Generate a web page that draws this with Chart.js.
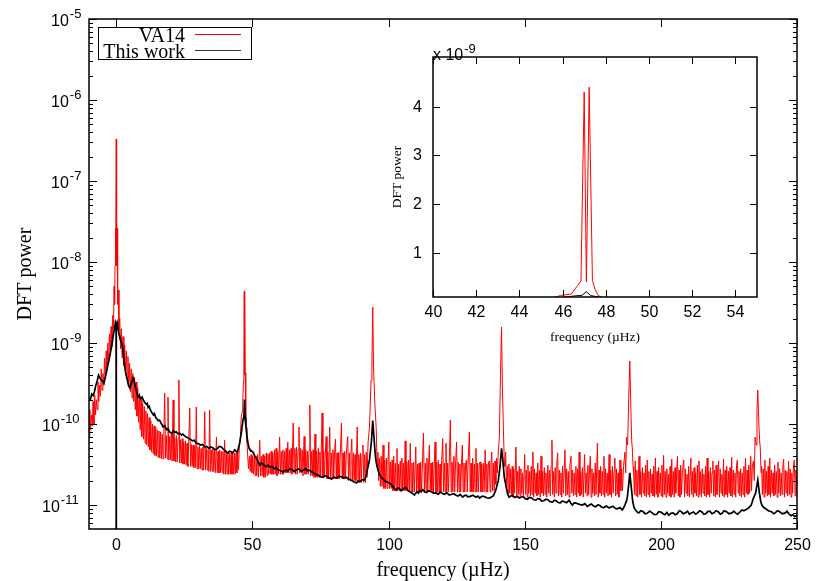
<!DOCTYPE html>
<html>
<head>
<meta charset="utf-8">
<script src="https://cdn.jsdelivr.net/npm/chart.js@4.4.0/dist/chart.umd.min.js"></script>
<style>
  html, body { margin: 0; padding: 0; background: #fff; }
  #wrap { position: relative; width: 830px; height: 581px; }
  #main { position: absolute; left: 0; top: 0; }
  #inset { position: absolute; left: 380px; top: 40px; }
</style>
</head>
<body>
<div id="wrap">
  <canvas id="main" width="830" height="581"></canvas>
  <canvas id="inset" width="400" height="320"></canvas>
</div>
<script>
// espectros leidos a ojo: [frecuencia (µHz), potencia (x1e-12)]
const va14 = [
  [-10,70],[-9.7,150],[-9.4,85],[-9.1,130],[-8.8,95],[-8.5,190],[-8.2,100],[-7.9,230],[-7.6,130],[-7.3,200],
  [-7,150],[-6.7,330],[-6.4,190],[-6.1,300],[-5.8,220],[-5.5,480],[-5.2,260],[-4.9,420],[-4.6,300],[-4.3,650],
  [-4,360],[-3.7,800],[-3.4,480],[-3.1,1000],[-2.8,560],[-2.5,1300],[-2.2,700],[-1.9,1600],[-1.6,900],[-1.3,2200],
  [-1,1500],[-0.8,5000],[-0.6,3000],[-0.45,9000],[-0.3,26000],[-0.15,9000],[0,330000],[0.15,9000],[0.3,26000],[0.45,8000],
  [0.6,3000],[0.8,4500],[1,1400],[1.3,2000],[1.6,850],[1.9,1500],[2.2,650],[2.5,1200],[2.8,520],[3.1,950],
  [3.4,430],[3.7,800],[4,350],[4.3,680],[4.6,300],[4.9,560],[5.2,250],[5.5,480],[5.8,210],[6.1,420],
  [6.4,190],[6.7,380],[7,150],[7.3,330],[7.6,125],[7.9,280],[8.2,105],[8.5,240],[8.8,85],[9.1,200],
  [9.4,70],[9.7,180],[10,65],[10.3,165],[10.6,58],[10.9,145],[11.2,55],[11.5,135],[11.8,52],[12.1,120],
  [12.4,48],[12.7,110],[13,45],[13.3,100],[13.6,43],[13.9,95],[14.2,41],[14.5,92],[14.8,40],[15.1,85],
  [15.4,39],[15.7,82],[16,38],[16.3,80],[16.6,37],[16.9,75],[17.2,37],[17.5,80],[17.8,241],[18.1,38],
  [18.4,72],[18.7,37],[19,215],[19.3,36],[19.6,70],[19.9,36],[20.2,75],[20.5,35],[20.9,198],[21.2,35],
  [21.5,68],[21.8,34],[22.1,72],[22.4,34],[22.7,66],[23,349],[23.3,33],[23.6,64],[23.9,33],[24.2,66],
  [24.5,32],[24.8,60],[25.1,32],[25.4,62],[25.7,31],[26,58],[26.3,30],[26.6,60],[27,158],[27.3,30],
  [27.6,56],[27.9,30],[28.2,55],[28.5,29],[28.8,54],[29.1,29],[29.4,162],[29.7,28],[30,52],[30.3,28],
  [30.6,54],[30.9,28],[31.2,50],[31.5,27],[31.8,52],[32.1,27],[32.5,142],[32.8,27],[33.1,50],[33.4,27],
  [33.7,48],[34,26],[34.3,149],[34.6,26],[34.9,48],[35.2,26],[35.5,50],[35.8,26],[36.1,47],[36.4,25],
  [36.8,69],[37.1,25],[37.4,46],[37.7,25],[38,48],[38.3,25],[38.6,46],[38.9,25],[39.2,46],[39.5,24],
  [39.8,63],[40.1,24],[40.4,45],[40.7,24],[41,45],[41.3,24],[41.6,44],[41.9,24],[42.2,44],[42.5,24],
  [42.8,45],[43.1,24],[43.4,44],[43.7,24],[44,44],[44.3,25],[44.6,46],[44.9,27],[45.2,52],[45.5,60],
  [45.9,122],[46.4,150],[46.7,330],[46.85,420],[47,4300],[47.1,400],[47.23,4400],[47.38,430],[47.5,250],[47.65,120],
  [47.8,90],[48,60],[48.3,39],[48.6,28],[48.9,40],[49.2,26],[49.5,42],[49.8,25],[50.1,40],[50.4,24],
  [50.7,42],[51,23],[51.3,40],[51.6,23],[51.9,42],[52.2,22],[52.7,63],[53,23],[53.3,40],[53.6,23],
  [53.9,42],[54.2,22],[54.5,40],[54.8,22],[55.1,44],[55.4,23],[55.7,43],[56,24],[56.3,44],[56.6,24],
  [56.9,46],[57.2,24],[57.5,44],[57.8,24],[58.1,48],[58.4,24],[58.7,50],[59,23],[59.3,46],[59.6,24],
  [60,69],[60.3,24],[60.6,46],[60.9,24],[61.2,48],[61.5,24],[61.8,46],[62.1,25],[62.4,50],[62.7,25],
  [63,60],[63.3,25],[63.6,48],[63.9,25],[64.2,50],[64.5,24],[65,103],[65.3,25],[65.6,50],[65.9,24],
  [66.2,52],[66.5,24],[66.8,48],[67.1,92],[67.4,25],[67.7,50],[68,25],[68.3,48],[68.6,23],[69,70],
  [69.3,24],[69.6,48],[69.9,24],[70.2,46],[70.5,24],[70.8,48],[71.1,172],[71.4,23],[71.7,46],[72,23],
  [72.3,48],[72.6,22],[73,75],[73.3,22],[73.6,46],[73.9,22],[74.2,50],[74.5,22],[74.8,45],[75.1,22],
  [75.6,137],[75.9,22],[76.2,46],[76.5,22],[76.8,44],[77.1,70],[77.4,21],[77.7,45],[78,21],[78.4,92],
  [78.7,21],[79,44],[79.3,21],[79.6,48],[79.9,21],[80.2,46],[80.5,65],[80.8,21],[81.1,44],[81.4,21],
  [81.7,45],[82,21],[82.3,44],[82.7,103],[83,21],[83.3,44],[83.6,21],[83.9,46],[84.2,21],[84.5,44],
  [85,70],[85.3,20],[85.6,44],[85.9,20],[86.2,45],[86.5,65],[86.8,20],[87.1,44],[87.4,20],[87.7,42],
  [88,20],[88.5,92],[88.8,19],[89.1,42],[89.4,19],[89.7,44],[90,19],[90.3,42],[90.6,55],[90.9,19],
  [91.2,42],[91.5,19],[91.8,45],[92.1,22],[92.5,60],[93,92],[93.6,350],[93.9,600],[94.2,2780],[94.5,500],
  [94.9,200],[95.5,84],[95.8,30],[96.1,45],[96.4,20],[96.7,38],[97,17],[97.3,40],[97.6,17],[98,55],
  [98.3,16],[98.6,36],[98.9,16],[99.2,38],[99.5,16],[99.8,35],[100.1,60],[100.4,16],[100.7,34],[101,16],
  [101.3,36],[101.6,15],[101.9,40],[102.2,15],[102.5,33],[102.8,15],[103.1,50],[103.4,15],[103.7,32],[104,15],
  [104.3,35],[104.6,15],[104.9,38],[105.2,15],[105.5,33],[105.8,15],[106.1,62],[106.4,15],[106.7,34],[107,15],
  [107.3,36],[107.6,15],[108,58],[108.3,14.5],[108.6,33],[108.9,14.5],[109.2,34],[109.5,14.5],[110,52],[110.3,14.5],
  [110.6,32],[110.9,14.5],[111.2,33],[111.5,14.5],[111.8,34],[112.1,14.5],[112.8,77],[113.2,14.5],[113.5,33],[113.8,14.5],
  [114.1,38],[114.4,14.5],[114.7,32],[115,55],[115.3,14.5],[115.6,33],[115.9,14.5],[116.2,34],[116.5,14.5],[116.8,32],
  [117.1,60],[117.4,14.5],[117.7,34],[118,14.5],[118.3,36],[118.6,14.5],[118.9,32],[119.2,14.5],[119.5,34],[119.9,66],
  [120.2,14.5],[120.5,33],[120.8,14.5],[121.1,58],[121.4,14.5],[121.7,33],[122,14.5],[122.3,34],[122.7,112],[123,14.5],
  [123.3,34],[123.6,14.5],[124,40],[124.3,14.5],[124.6,32],[125,60],[125.3,14.5],[125.6,34],[125.9,14.5],[126.2,32],
  [126.5,14.5],[126.8,33],[127.1,55],[127.4,14.5],[127.7,33],[128,14.5],[128.3,32],[128.6,36],[128.9,14.5],[129.2,33],
  [129.7,80],[130,14.5],[130.3,33],[130.6,14.5],[130.9,38],[131.2,14.5],[131.5,32],[131.8,14.5],[132.1,50],[132.4,14.5],
  [132.7,33],[133,14.5],[133.3,32],[133.6,34],[133.9,14.5],[134.2,32],[134.5,14.5],[134.8,33],[135.1,14.5],[135.5,48],
  [135.8,14.5],[136.1,32],[136.4,14.5],[136.7,33],[137,35],[137.3,14.5],[137.6,32],[137.9,45],[138.2,15],[138.5,33],
  [138.8,15],[139.1,35],[139.4,18],[139.7,38],[140,25],[140.3,45],[140.7,69],[141.1,400],[141.5,1580],[141.8,300],
  [142.2,84],[142.5,35],[142.7,30],[143,45],[143.3,18],[143.6,30],[143.9,14],[144.2,32],[144.5,14],[144.8,28],
  [145.1,13.5],[145.4,30],[145.7,12.5],[146,28],[146.3,14],[146.8,52],[147.1,13],[147.4,26],[147.7,13.5],[148,30],
  [148.3,12.5],[148.6,28],[148.9,14],[149.2,25],[149.5,13],[150,42],[150.3,13.5],[150.6,27],[150.9,12.5],[151.2,31],
  [151.5,14],[151.8,26],[152.1,13],[152.4,30],[152.7,13.5],[153,45],[153.3,12.5],[153.6,28],[153.9,14],[154.2,25],
  [154.5,13],[154.8,33],[155.1,13.5],[155.4,27],[155.7,12.5],[156,40],[156.3,14],[156.6,26],[156.9,13],[157.2,29],
  [157.5,13.5],[157.8,25],[158.1,12.5],[158.5,31],[158.8,14],[159.1,27],[159.4,13],[159.7,30],[160,63],[160.3,13.5],
  [160.6,26],[160.9,12.5],[161.2,29],[161.5,14],[161.8,33],[162.1,44],[162.4,13],[162.7,27],[163,13.5],[163.3,25],
  [163.6,12.5],[163.9,30],[164.2,14],[164.8,48],[165.1,13],[165.4,28],[165.7,13.5],[166,26],[166.3,12.5],[166.6,31],
  [167,40],[167.3,14],[167.6,27],[167.9,13],[168.2,25],[168.5,13.5],[168.8,30],[169.1,12.5],[169.4,28],[169.7,14],
  [170,45],[170.3,13],[170.6,26],[170.9,13.5],[171.2,29],[171.5,12.5],[172,42],[172.3,14],[172.6,25],[172.9,13],
  [173.2,31],[173.5,13.5],[173.8,27],[174.1,40],[174.4,12.5],[174.7,28],[175,14],[175.3,25],[175.6,13],[175.9,33],
  [176.2,13.5],[176.7,58],[177,12.5],[177.3,27],[177.6,14],[177.9,30],[178.2,13],[178.5,26],[178.8,13.5],[179.1,40],
  [179.4,12.5],[179.7,28],[180,14],[180.3,25],[180.6,13],[181,42],[181.3,13.5],[181.6,27],[181.9,12.5],[182.2,30],
  [182.5,14],[182.8,26],[183.1,38],[183.4,13],[183.7,28],[184,13.5],[184.3,25],[184.6,12.5],[185,36],[185.3,15],
  [185.6,28],[185.9,15],[186.3,30],[186.8,45],[187.1,25],[187.4,69],[187.8,55],[188.2,200],[188.6,600],[189,150],
  [189.3,60],[189.5,52],[189.8,30],[190,25],[190.3,13.5],[190.6,35],[190.9,13],[191.2,27],[191.5,12.5],[192,40],
  [192.3,13.5],[192.6,26],[192.9,12.5],[193.2,29],[193.5,14],[193.8,25],[194.1,13],[194.4,31],[194.7,12.5],[195,36],
  [195.3,13.5],[195.6,26],[195.9,12.5],[196.2,28],[196.5,14],[196.8,24],[197.1,13],[197.4,30],[197.7,12.5],[198,38],
  [198.3,13.5],[198.6,26],[198.9,12.5],[199.2,29],[199.5,14],[199.8,25],[200.1,13],[200.4,31],[200.7,12.5],[201,41],
  [201.3,13.5],[201.6,26],[201.9,12.5],[202.2,28],[202.5,14],[202.8,24],[203.1,13],[203.4,30],[203.7,12.5],[204,37],
  [204.3,13.5],[204.6,26],[204.9,12.5],[205.2,29],[205.5,14],[205.8,25],[206.1,40],[206.4,13],[206.7,27],[207,12.5],
  [207.3,31],[207.6,13.5],[207.9,25],[208.4,36],[208.7,12.5],[209,28],[209.3,14],[209.6,24],[209.9,13],[210.2,30],
  [210.5,12.5],[211,38],[211.3,13.5],[211.6,26],[211.9,12.5],[212.2,29],[212.5,14],[212.8,25],[213.1,13],[213.4,31],
  [213.7,12.5],[214,35],[214.3,13.5],[214.6,26],[214.9,12.5],[215.2,28],[215.5,14],[215.8,24],[216.1,13],[216.4,30],
  [216.7,12.5],[217,38],[217.3,13.5],[217.6,26],[217.9,12.5],[218.2,29],[218.5,14],[218.8,25],[219.1,35],[219.4,13],
  [219.7,27],[220,12.5],[220.3,31],[220.6,13.5],[220.9,25],[221.2,35],[221.5,12.5],[221.8,28],[222.1,14],[222.4,24],
  [222.7,13],[223,37],[223.3,12.5],[223.6,27],[223.9,13.5],[224.2,30],[224.5,12.5],[224.8,26],[225.1,14],[225.4,29],
  [225.7,13],[226,39],[226.3,12.5],[226.6,27],[226.9,13.5],[227.2,25],[227.5,12.5],[227.8,31],[228.1,36],[228.4,14],
  [228.7,26],[229,13],[229.3,28],[229.6,12.5],[229.9,25],[230.2,13.5],[230.5,30],[230.8,12.5],[231.1,38],[231.4,14],
  [231.7,27],[232,13.5],[232.3,31],[232.6,14],[233,40],[233.3,15],[233.6,30],[234,35],[234.3,20],[234.6,69],
  [235,55],[235.3,150],[235.6,263],[236,100],[236.3,60],[236.5,52],[236.8,25],[237,30],[237.3,13.5],[237.6,28],
  [237.9,12.5],[238.2,36],[238.5,14],[238.8,26],[239.1,13],[239.4,30],[239.7,13.5],[240,38],[240.3,12.5],[240.6,27],
  [240.9,14],[241.2,25],[241.5,13],[241.8,31],[242.1,13.5],[242.4,26],[242.7,12.5],[243,34],[243.3,14],[243.6,28],
  [243.9,13],[244.2,25],[244.5,13.5],[244.8,30],[245.1,37],[245.4,12.5],[245.7,27],[246,14],[246.3,26],[246.6,13],
  [246.9,35],[247.2,13.5],[247.5,28],[247.8,12.5],[248.1,25],[248.4,14],[248.7,30],[249,36],[249.3,13],[249.6,27],
  [250,13.5]
];

const thisWork = [
  [-10,210],[-9.5,200],[-9,235],[-8.5,225],[-8,250],[-7.5,300],[-7,340],[-6.5,400],[-6,370],[-5.5,350],
  [-5,340],[-4.5,320],[-4,380],[-3.5,450],[-3,550],[-2.5,650],[-2,800],[-1.5,1000],[-1,1300],[-0.5,1600],
  [-0.3,1800],[-0.05,1700],[0,0.01],[0.05,1700],[0.3,1800],[0.5,1600],[1,1300],[1.5,1100],[2,1000],[2.5,800],
  [3,550],[3.5,420],[4,360],[4.5,300],[5,280],[5.3,300],[5.6,320],[6.2,370],[6.6,340],[7,290],
  [7.5,250],[8,215],[8.5,225],[9,205],[9.5,215],[9.9,200],[10.4,185],[11,175],[11.4,180],[11.7,160],
  [12.1,165],[12.5,150],[13,140],[13.6,130],[14,135],[14.5,120],[15,115],[15.4,110],[15.9,112],[16.3,105],
  [16.8,98],[17.2,92],[17.8,95],[18.5,85],[19,88],[19.6,80],[20.3,77],[21,82],[21.6,79],[22,80],
  [22.6,76],[23.3,77],[24,73],[24.5,75],[25,72],[25.7,69],[26.4,67],[27.2,65],[28,62],[28.7,63],
  [29.4,58],[30.2,57],[31,55],[31.7,56],[32.5,52],[33.2,53],[34,50],[34.7,52],[35.5,51],[36.2,48],
  [37,49],[37.8,53],[38.6,52],[39.3,49],[40,47],[40.5,45],[41,44],[41.5,46],[42,46],[42.7,44],
  [43.5,48],[44,46],[44.5,45],[45.3,58],[46,80],[46.5,110],[46.9,125],[47.1,200],[47.3,120],[47.6,95],
  [48,70],[48.4,58],[48.8,50],[49.1,48],[49.6,47],[50.2,45],[50.8,41],[51.5,38],[52.1,34],[52.7,31],
  [53.3,33],[54,32],[54.6,30],[55.2,30],[55.8,31],[56.4,29.5],[57.2,30],[58,28],[58.7,29],[59.5,27],
  [60.4,26.5],[61.3,25.6],[62.1,27],[63,26.5],[63.7,28],[64.5,27.5],[65.3,26],[66.2,27],[67.1,28],[68,26],
  [68.7,27],[69.5,28],[70.3,26.5],[71.1,27],[71.8,25.5],[72.5,25],[73.2,24],[74,23.5],[74.9,22.5],[75.9,22],
  [76.7,23],[77.5,22.5],[78.2,21.5],[79,21],[79.9,22],[80.8,21.5],[81.6,22.5],[82.5,22.5],[83.5,21.5],[84.5,22],
  [85.2,21],[86,20.5],[87.1,19.5],[88.2,18.7],[88.8,19.8],[89.5,19.5],[90.3,20.5],[91.2,20.4],[91.8,23],[92.2,27],
  [93,36],[93.7,60],[94.2,110],[94.7,65],[95.2,39],[95.6,32],[96,28],[96.6,24],[97.3,22.2],[97.9,21],
  [98.5,20],[99.4,19.2],[100.4,18.7],[101,18],[101.5,17],[102.2,16],[102.8,15.3],[103.4,16.2],[104,16],[104.6,15],
  [105.2,15.5],[105.9,16.5],[106.5,16.2],[107.2,15],[108,14.5],[108.7,14],[109.5,13.3],[110,14],[110.5,14.5],[111,14],
  [111.5,15],[112,14.6],[112.6,15.5],[113.3,14.5],[114,14.3],[114.7,15],[115.5,14.7],[116.5,14],[117.5,14.1],[118.3,13.6],
  [119,14.5],[119.7,14],[120.5,13.6],[121.4,14.2],[122.3,13.3],[123.2,13.6],[124,13.8],[124.8,13.2],[125.5,12.9],[126.3,13.5],
  [127.2,12.5],[127.9,13.1],[128.5,13.2],[129.2,12.6],[130,12.8],[131,13.2],[132.1,12.5],[132.8,12.9],[133.5,12.2],[134.2,12.8],
  [135,12.8],[136,12.3],[137,12.2],[137.8,12.6],[138.5,13],[139.4,15.3],[140.3,20],[140.9,29],[141.5,50],[142,35],
  [142.5,22.2],[143.3,16],[143.8,13.5],[144.3,12.5],[144.9,12.9],[145.5,13.2],[146,12.6],[146.5,12.4],[147.2,12.8],[148,12.2],
  [148.7,12.5],[149.5,12.7],[150.2,12],[151,11.8],[151.8,12.4],[152.5,12.3],[153.3,11.6],[154.1,11.5],[154.8,12],[155.5,11.9],
  [156.2,11.2],[157,11.3],[157.8,11.8],[158.5,11.6],[159.3,11],[160.2,10.9],[160.9,11.5],[161.5,11.3],[162.2,10.8],[163,10.6],
  [163.8,11.2],[164.5,11],[165.4,10.7],[166.3,11.5],[166.9,10.6],[167.5,10],[168.2,10.7],[169,10.5],[170.1,10.2],[171.2,10],
  [172.1,10.4],[173,9.6],[173.8,10],[174.5,10.3],[175.3,9.7],[176.1,9.5],[176.8,10],[177.5,9.9],[178.3,9.4],[179,9.3],
  [180,9.7],[181,9.2],[181.8,9.5],[182.5,9.6],[183.3,9.1],[184,9],[185,9.3],[185.8,8.7],[186.3,9.2],[186.8,10],
  [187.3,11],[187.7,12.5],[188.2,18],[188.6,25],[189.1,17],[189.7,10.9],[190.2,9.2],[190.8,8.6],[191.3,8.2],[191.9,8],
  [192.7,8.5],[193.5,8.3],[194.2,7.8],[195,7.9],[195.9,8.4],[196.8,8],[197.6,7.6],[198.5,7.7],[199.2,8.3],[200,8.2],
  [200.8,7.8],[201.5,7.6],[202.2,8.1],[202.9,7.5],[203.7,7.9],[204.5,8],[205.3,7.6],[206,7.8],[206.8,8.5],[207.5,8.3],
  [208.2,7.8],[209,8],[209.8,8.4],[210.5,7.7],[211.2,8],[212,8.2],[212.8,7.7],[213.5,8],[214.3,8.5],[215.1,8.2],
  [215.8,7.7],[216.5,7.8],[217.2,8.3],[218,8.4],[218.8,7.8],[219.5,8],[220.3,8.5],[221.2,8.2],[221.8,7.7],[222.5,7.9],
  [223.2,8.5],[224,8.3],[225,7.8],[226.1,8],[226.8,8.4],[227.4,8],[228.2,7.7],[229,8.2],[229.8,8.7],[230.5,8.5],
  [231.3,8.8],[232.2,9.2],[233.2,10],[234,12.2],[234.8,14],[235.6,20.4],[236.2,14],[236.7,11],[237.1,10],[237.8,9.3],
  [238.5,9],[239.5,8.5],[240.8,8.2],[241.4,7.8],[242,8],[242.8,8.5],[243.5,8.3],[244.6,7.8],[245.7,8],[246.3,8.4],
  [247,7.8],[247.8,7.4],[248.5,7.6],[249.2,7.2],[250,7.5]
];

const xTicksMain = [0, 50, 100, 150, 200, 250];
const yExpMain = [-11, -10, -9, -8, -7, -6, -5];
const xTicksInset = [40, 42, 44, 46, 48, 50, 52, 54];
const yTicksInset = [1, 2, 3, 4]; // x 1e-9

const SANS = '"Liberation Sans", Arial, sans-serif';
const SERIF = '"Liberation Serif", "Times New Roman", serif';

function toXY(pts, fmin, fmax) {
  return pts
    .filter(p => fmin === undefined || (p[0] >= fmin && p[0] <= fmax))
    .map(p => ({ x: p[0], y: p[1] * 1e-12 }));
}

// etiqueta tipo gnuplot: 10 con exponente
function etiquetaPotencia(ctx, v, left, py) {
  const sup = String(Math.round(Math.log10(v)));
  const start = left - 2 - (2 + sup.length) * 9;
  ctx.textAlign = 'left';
  ctx.textBaseline = 'middle';
  ctx.font = '16px ' + SANS;
  ctx.fillText('10', start, py + 2);
  const w = ctx.measureText('10').width;
  ctx.font = '13px ' + SANS;
  ctx.fillText(sup, start + w + 1, py - 5);
}

function etiquetaSimple(ctx, v, left, py) {
  ctx.textAlign = 'right';
  ctx.textBaseline = 'middle';
  ctx.font = '16px ' + SANS;
  ctx.fillText(String(Math.round(v * 1e9)), left - 11, py);
}

// marco, marcas hacia dentro, etiquetas y titulos
const gnuFrame = {
  id: 'gnuFrame',
  afterDatasetsDraw(chart, args, o) {
    const ctx = chart.ctx;
    const a = chart.chartArea;
    const xs = chart.scales.x, ys = chart.scales.y;
    const seg = (x1, y1, x2, y2) => { ctx.beginPath(); ctx.moveTo(x1, y1); ctx.lineTo(x2, y2); ctx.stroke(); };
    ctx.save();
    ctx.strokeStyle = '#000';
    ctx.fillStyle = '#000';
    ctx.lineWidth = 1;

    (o.yMinor || []).forEach(v => {
      const py = Math.round(ys.getPixelForValue(v)) + 0.5;
      seg(a.left, py, a.left + 4, py);
      seg(a.right, py, a.right - 4, py);
    });
    o.yTicks.forEach(v => {
      const py = Math.round(ys.getPixelForValue(v)) + 0.5;
      seg(a.left, py, a.left + o.tickLen, py);
      seg(a.right, py, a.right - o.tickLen, py);
      o.yLabel(ctx, v, a.left, py);
    });
    o.xTicks.forEach(v => {
      const px = Math.round(xs.getPixelForValue(v)) + 0.5;
      seg(px, a.bottom, px, a.bottom - o.tickLen);
      seg(px, a.top, px, a.top + o.tickLen);
      ctx.font = '16px ' + SANS;
      ctx.textAlign = 'center';
      ctx.textBaseline = 'middle';
      ctx.fillText(String(v), px, a.bottom + o.xLabelGap);
    });

    ctx.lineWidth = 1.5;
    ctx.strokeRect(a.left, a.top, a.right - a.left, a.bottom - a.top);

    ctx.font = o.titleFont;
    ctx.textAlign = 'center';
    ctx.textBaseline = 'alphabetic';
    ctx.fillText(o.xTitle, (a.left + a.right) / 2, a.bottom + o.xTitleGap);
    ctx.save();
    ctx.translate(a.left - o.yTitleGap, (a.top + a.bottom) / 2);
    ctx.rotate(-Math.PI / 2);
    ctx.fillText(o.yTitle, 0, 0);
    ctx.restore();

    if (o.extra) o.extra(ctx, a);
    ctx.restore();
  }
};

// leyenda estilo gnuplot (texto a la izquierda, muestra de linea a la derecha)
const gnuLegend = {
  id: 'gnuLegend',
  afterDraw(chart) {
    const ctx = chart.ctx;
    ctx.save();
    ctx.strokeStyle = '#000';
    ctx.lineWidth = 1;
    ctx.strokeRect(98.5, 27.5, 153, 32);
    ctx.font = '20px ' + SERIF;
    ctx.textAlign = 'right';
    ctx.textBaseline = 'alphabetic';
    ctx.fillStyle = '#000';
    const filas = [42, 57.5];
    const lineas = [34.5, 50.5];
    const grosor = [1, 0.8];
    chart.data.datasets.forEach((ds, i) => {
      ctx.fillText(ds.label, 185, filas[i]);
      ctx.strokeStyle = ds.borderColor;
      ctx.lineWidth = grosor[i];
      ctx.beginPath();
      ctx.moveTo(195, lineas[i]);
      ctx.lineTo(241, lineas[i]);
      ctx.stroke();
    });
    ctx.restore();
  }
};

const yMinorMain = [];
for (let d = -12; d <= -6; d++) {
  for (let m = 2; m <= 9; m++) {
    const v = m * Math.pow(10, d);
    if (v > 5.06e-12 && v < 1e-5) yMinorMain.push(v);
  }
}

new Chart(document.getElementById('main'), {
  type: 'line',
  data: {
    datasets: [
      { label: 'VA14', data: toXY(va14), borderColor: '#ff0000', borderWidth: 1, order: 2 },
      { label: 'This work', data: toXY(thisWork), borderColor: '#000000', borderWidth: 1.7, order: 1 }
    ]
  },
  options: {
    responsive: false,
    animation: false,
    events: [],
    elements: { point: { radius: 0 }, line: { tension: 0 } },
    layout: { padding: { left: 89, right: 33, top: 19, bottom: 52 } },
    scales: {
      x: { type: 'linear', min: -10, max: 250, display: false },
      y: { type: 'logarithmic', min: 5.06e-12, max: 1e-5, display: false }
    },
    plugins: {
      legend: { display: false },
      tooltip: { enabled: false },
      gnuFrame: {
        xTicks: xTicksMain,
        yTicks: yExpMain.map(e => Math.pow(10, e)),
        yMinor: yMinorMain,
        yLabel: etiquetaPotencia,
        tickLen: 8,
        xLabelGap: 17,
        titleFont: '20px ' + SERIF,
        xTitle: 'frequency (µHz)',
        xTitleGap: 47,
        yTitle: 'DFT power',
        yTitleGap: 58
      }
    }
  },
  plugins: [gnuFrame, gnuLegend]
});

// recuadro ampliado alrededor de 47 µHz
new Chart(document.getElementById('inset'), {
  type: 'line',
  data: {
    datasets: [
      { label: 'VA14', data: toXY(va14, 38, 57), borderColor: '#ff0000', borderWidth: 1, order: 2 },
      { label: 'This work', data: toXY(thisWork, 38, 57), borderColor: '#000000', borderWidth: 1, order: 1 }
    ]
  },
  options: {
    responsive: false,
    animation: false,
    events: [],
    elements: { point: { radius: 0 }, line: { tension: 0 } },
    layout: { padding: { left: 53, right: 23, top: 17, bottom: 63 } },
    scales: {
      x: { type: 'linear', min: 40, max: 55, display: false },
      y: { type: 'linear', min: 0.09e-9, max: 5.02e-9, display: false }
    },
    plugins: {
      legend: { display: false },
      tooltip: { enabled: false },
      gnuFrame: {
        xTicks: xTicksInset,
        yTicks: yTicksInset.map(v => v * 1e-9),
        yLabel: etiquetaSimple,
        tickLen: 7,
        xLabelGap: 16,
        titleFont: '13.5px ' + SERIF,
        xTitle: 'frequency (µHz)',
        xTitleGap: 44,
        yTitle: 'DFT power',
        yTitleGap: 32,
        extra(ctx, a) {
          ctx.textAlign = 'left';
          ctx.textBaseline = 'middle';
          ctx.font = '16px ' + SANS;
          ctx.fillText('x 10', a.left, a.top - 1);
          const w = ctx.measureText('x 10').width;
          ctx.font = '13px ' + SANS;
          ctx.fillText('-9', a.left + w + 1, a.top - 8);
        }
      }
    }
  },
  plugins: [gnuFrame]
});
</script>
</body>
</html>
